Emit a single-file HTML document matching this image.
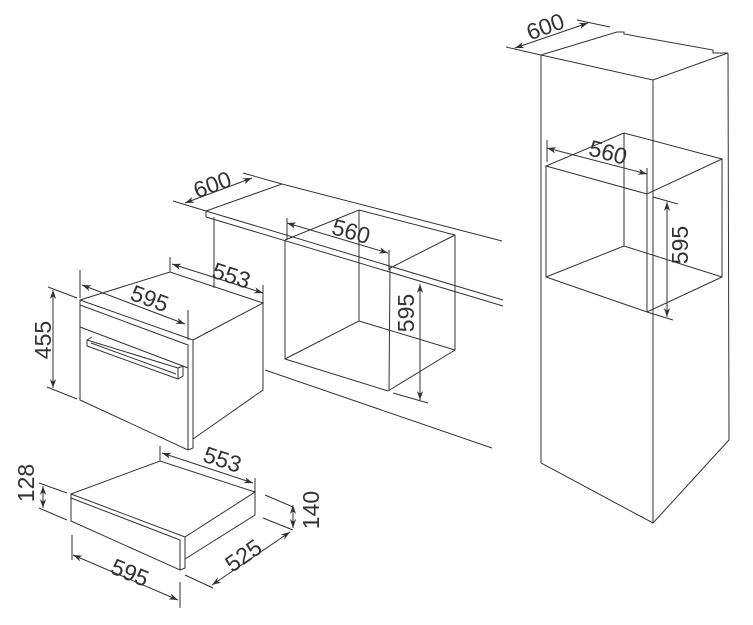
<!DOCTYPE html>
<html><head><meta charset="utf-8"><style>
html,body{margin:0;padding:0;background:#fff}
svg{display:block}
text{font-family:"Liberation Sans",sans-serif;font-size:23px;fill:#333}
</style></head><body>
<svg width="753" height="625" viewBox="0 0 753 625" xmlns="http://www.w3.org/2000/svg">
<defs>
<marker id="a" viewBox="0 0 10 10" refX="10" refY="5" markerWidth="9" markerHeight="9" orient="auto-start-reverse" markerUnits="userSpaceOnUse"><path d="M0,1.5 L10,5 L0,8.5 L3,5 Z" fill="#333"/></marker>
</defs>
<g stroke="#333" stroke-width="1" fill="none">
<path d="M541,55 L541,463 L653,523 L729,440 L728,53"/>
<path d="M653,80 L653,523"/>
<path d="M541,55 L653,80 L728,53 L713,53 L713,50 L624,34 L624,32 L617,32 L541,55"/>
<path d="M546,166 L647,194 L722,159 L624,133 L546,166 Z"/>
<path d="M546,166 L546,277 L647,312 L722,277 L722,159"/>
<path d="M647,194 L647,312"/>
<path d="M624,133 L624,246 L546,277 M624,246 L722,277"/>
<path d="M506,47 L541,55 M577,20 L610,27"/>
<path d="M515,48 L588,23" marker-start="url(#a)" marker-end="url(#a)"/>
<path d="M547,140 L547,162 M647,168 L647,196"/>
<path d="M547,148 L647,174" marker-start="url(#a)" marker-end="url(#a)"/>
<path d="M653,197 L678,204 M647,312 L673,320"/>
<path d="M667,202 L667,317" marker-start="url(#a)" marker-end="url(#a)"/>

<path d="M206,211 L503,300 M206,217 L503,306 M206,211 L206,217 M206,211 L282,184 L502,241"/>
<path d="M214,217 L214,288"/>
<path d="M265,370 L492,448"/>
<path d="M285,240 L285,359 L388,391 L455,350 L455,235 L359,210 L285,240"/>
<path d="M455,235 L390,268 L389,391"/>
<path d="M359,210 L359,321 L285,359 M359,321 L455,350"/>
<path d="M173,201 L206,211 M243,173 L282,184"/>
<path d="M185,203 L252,178" marker-start="url(#a)" marker-end="url(#a)"/>
<path d="M287,218 L287,240 M389,250 L389,270"/>
<path d="M287,223 L388,253" marker-start="url(#a)" marker-end="url(#a)"/>
<path d="M393,393 L428,403"/>
<path d="M420,284 L420,400" marker-start="url(#a)" marker-end="url(#a)"/>

<path d="M80,300 L80,400 L188,450 L193,448 L193,340 L80,300 Z"/>
<path d="M80,305 L188,345 L188,450"/>
<path d="M80,327 L188,368"/>
<path d="M80,300 L170,272 L263,303 L193,340"/>
<path d="M263,303 L263,390 L193,439"/>
<path d="M87,340 L87,346 L178,379 L178,368 L87,340 M92,337 L87,340 M178,368 L183,366 L183,376 L178,379"/>
<path d="M91,343 L176,374"/>
<path d="M80,270 L80,298 M188,310 L188,340"/>
<path d="M82,285 L185,324" marker-start="url(#a)" marker-end="url(#a)"/>
<path d="M170,257 L170,272 M263,285 L263,303"/>
<path d="M172,264 L263,293" marker-start="url(#a)" marker-end="url(#a)"/>
<path d="M48,287 L77,298 M47,387 L77,399"/>
<path d="M53,290 L53,388" marker-start="url(#a)" marker-end="url(#a)"/>

<path d="M71,494 L71,521 L180,570 L185,568 L185,537 L71,494 Z"/>
<path d="M71,498 L180,540 L180,570"/>
<path d="M71,494 L160,461 L255,492 L185,537"/>
<path d="M255,492 L255,515 L185,559"/>
<path d="M160,446 L160,461 M255,478 L255,492"/>
<path d="M162,453 L253,483" marker-start="url(#a)" marker-end="url(#a)"/>
<path d="M39,483 L67,493 M39,508 L67,520"/>
<path d="M43,486 L43,508" marker-start="url(#a)" marker-end="url(#a)"/>
<path d="M265,495 L293,507 M263,518 L293,530"/>
<path d="M293,505 L293,528" marker-start="url(#a)" marker-end="url(#a)"/>
<path d="M185,575 L213,588"/>
<path d="M212,585 L290,532" marker-start="url(#a)" marker-end="url(#a)"/>
<path d="M72,535 L72,560 M180,582 L180,608"/>
<path d="M73,555 L178,600" marker-start="url(#a)" marker-end="url(#a)"/>
</g>
<g>
<text transform="translate(548,34) rotate(-20)" text-anchor="middle">600</text>
<text transform="translate(606,160) rotate(15)" text-anchor="middle">560</text>
<text transform="translate(688,245) rotate(-90)" text-anchor="middle">595</text>
<text transform="translate(215,192) rotate(-20)" text-anchor="middle">600</text>
<text transform="translate(349,239) rotate(16)" text-anchor="middle">560</text>
<text transform="translate(414,313) rotate(-90)" text-anchor="middle">595</text>
<text transform="translate(229,283) rotate(18)" text-anchor="middle">553</text>
<text transform="translate(147,306) rotate(20)" text-anchor="middle">595</text>
<text transform="translate(51,340) rotate(-90)" text-anchor="middle">455</text>
<text transform="translate(220,467) rotate(18)" text-anchor="middle">553</text>
<text transform="translate(34,483) rotate(-90)" text-anchor="middle">128</text>
<text transform="translate(319,510) rotate(-90)" text-anchor="middle">140</text>
<text transform="translate(248,562) rotate(-35)" text-anchor="middle">525</text>
<text transform="translate(127,580) rotate(22)" text-anchor="middle">595</text>
</g>
</svg>
</body></html>
